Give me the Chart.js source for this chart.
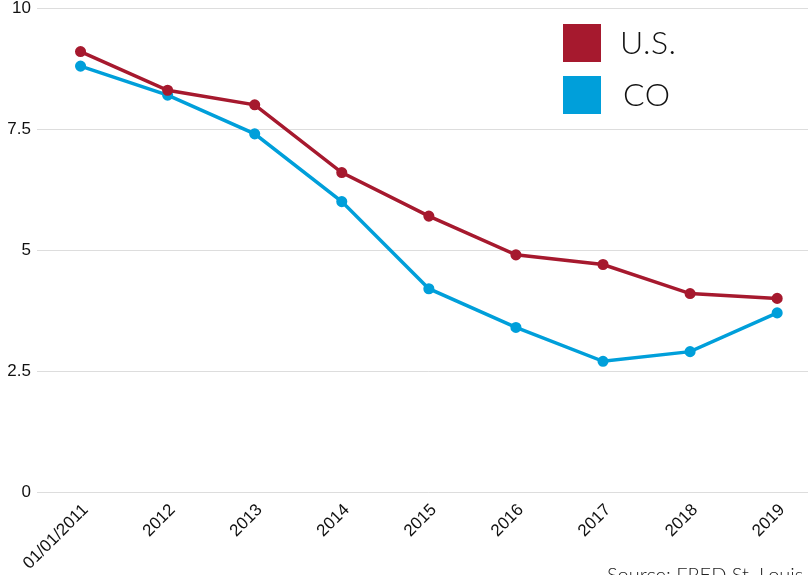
<!DOCTYPE html>
<html>
<head>
<meta charset="utf-8">
<script src="https://cdn.jsdelivr.net/npm/chart.js@4"></script>
<style>
    html, body { margin: 0; padding: 0; background: #fff; overflow: hidden; }
    #wrap { position: relative; width: 828px; height: 575px; }
    #legend { position: absolute; left: 563px; top: 24px; font-family: 'Lato', sans-serif; font-weight: 300; }
    .leg_item { display: flex; align-items: center; height: 38px; margin-bottom: 14px; }
    .leg_box { width: 38px; height: 38px; margin-right: 19px; }
    .leg_text { font-size: 32px; color: #111; letter-spacing: 0.5px; margin-top: -4px; }
    .leg_item:nth-child(2) .leg_text { margin-left: 3px; }
    #source { position: absolute; left: 607px; top: 562px; font-family: 'Lato', sans-serif; font-weight: 300; font-size: 20px; color: #222; white-space: nowrap; }
</style>
</head>
<body>
<div id="wrap">
    <canvas id="myChart" width="828" height="575"></canvas>
    <div id="legend"></div>
    <div id="source">Source: FRED St. Louis</div>
</div>
<script>
const years = ['01/01/2011', '2012', '2013', '2014', '2015', '2016', '2017', '2018', '2019'];
const usRate = [9.1, 8.3, 8.0, 6.6, 5.7, 4.9, 4.7, 4.1, 4.0];
const coRate = [8.8, 8.2, 7.4, 6.0, 4.2, 3.4, 2.7, 2.9, 3.7];
const yTicks = [0, 2.5, 5, 7.5, 10];

const seriesInfo = [
    { name: 'U.S.', data: usRate, color: '#A6192E' },
    { name: 'CO', data: coRate, color: '#009FDA' }
];

function getLegend(){
    seriesInfo.forEach(element => {
        var div = document.createElement('div');
        div.className = 'leg_item';
        div.innerHTML = `<div class="leg_box" style="background:${element.color}"></div><span class="leg_text">${element.name}</span>`;
        document.getElementById('legend').appendChild(div);
    });
}

function getChart(){
    const ctx = document.getElementById('myChart');

    new Chart(ctx, {
        type: 'line',
        data: {
            labels: years,
            datasets: seriesInfo.map(s => ({
                label: s.name,
                data: s.data,
                borderColor: s.color,
                backgroundColor: s.color,
                borderWidth: 3.5,
                pointRadius: 3.8,
                pointHoverRadius: 3.8,
                tension: 0
            }))
        },
        options: {
            responsive: false,
            animation: false,
            layout: { padding: 0 },
            plugins: {
                legend: { display: false },
                tooltip: { enabled: false }
            },
            scales: {
                x: {
                    offset: true,
                    grid: { display: false, drawTicks: false },
                    border: { display: false },
                    afterFit: (scale) => {
                        scale.height = 83;
                        scale.paddingLeft = 0;
                        scale.paddingRight = 0;
                    },
                    ticks: {
                        minRotation: 45,
                        maxRotation: 45,
                        padding: 8,
                        labelOffset: 5,
                        color: '#111',
                        font: { family: 'Liberation Sans', size: 17 }
                    }
                },
                y: {
                    min: 0,
                    max: 10,
                    afterBuildTicks: (scale) => { scale.ticks = yTicks.map(v => ({ value: v })); },
                    afterFit: (scale) => {
                        scale.width = 37;
                        scale.paddingTop = 8;
                        scale.paddingBottom = 0;
                    },
                    grid: { color: '#dddddd', lineWidth: 1, drawTicks: false },
                    border: { display: false },
                    ticks: {
                        padding: 6,
                        color: '#111',
                        font: { family: 'Liberation Sans', size: 17 }
                    }
                }
            }
        }
    });
}

document.addEventListener('DOMContentLoaded', (event) => {
    getLegend();
    getChart();
});
</script>
</body>
</html>
